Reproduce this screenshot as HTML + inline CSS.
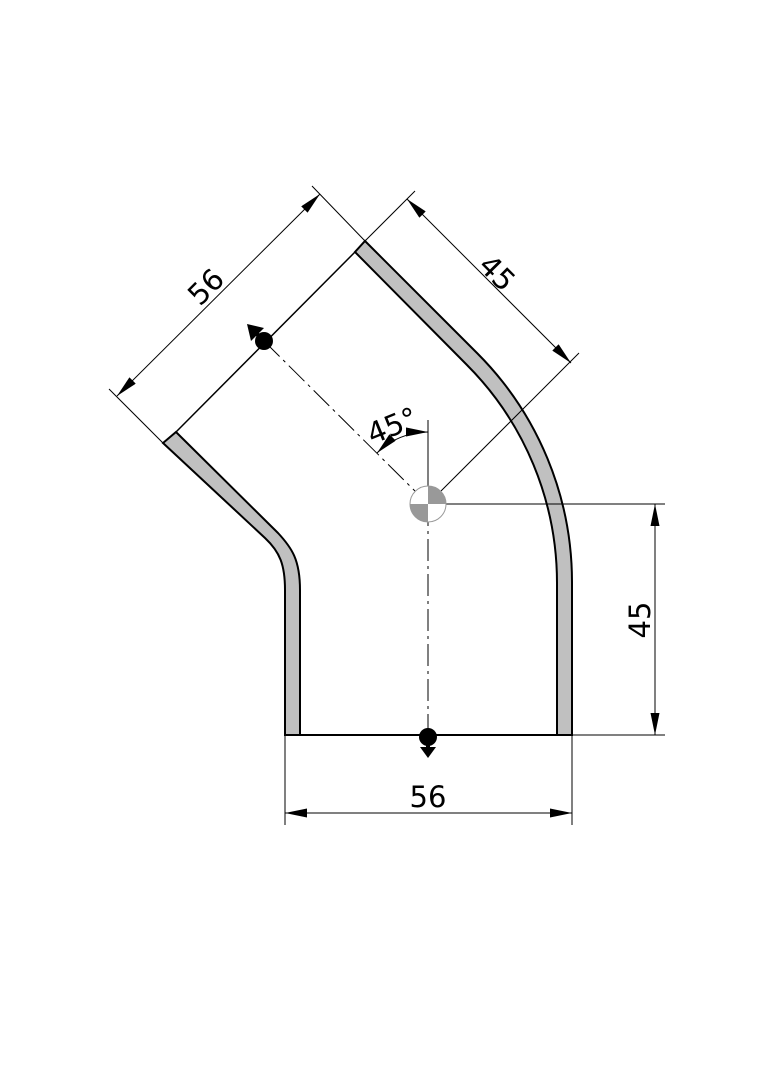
<!DOCTYPE html>
<html><head><meta charset="utf-8"><style>
html,body{margin:0;padding:0;background:#fff;}
svg{display:block;}
text{font-family:"DejaVu Sans","Liberation Sans",sans-serif;font-size:29px;fill:#000;}
</style></head><body>
<svg width="764" height="1080" viewBox="0 0 764 1080" xmlns="http://www.w3.org/2000/svg">
<defs>
<marker id="a" viewBox="0 0 22 9" refX="22" refY="4.5" markerWidth="22" markerHeight="9" markerUnits="userSpaceOnUse" orient="auto-start-reverse"><path d="M0,0 L22,4.5 L0,9 Z" fill="#000"/></marker>
</defs>
<path d="M163,443 L265,538 C280,552 285,565 285,590 L285,735 L300,735 L300,590 C300,560 292,548 278,533 L176,432 Z" fill="#c0c0c0" stroke="#000" stroke-width="2"/>
<path d="M365,241 L477,353 A324,324 0 0 1 572,583 L572,735 L557,735 L557,583 A309,309 0 0 0 466.5,364.5 L355,252 Z" fill="#c0c0c0" stroke="#000" stroke-width="2"/>
<line x1="355" y1="252" x2="176" y2="432" stroke="#000" stroke-width="1.5"/>
<line x1="300" y1="735" x2="557" y2="735" stroke="#000" stroke-width="2"/>
<g stroke="#000" stroke-width="1" fill="none">
<line x1="264" y1="341" x2="428" y2="504" stroke-dasharray="22,5,3,5"/>
<line x1="428" y1="504" x2="428" y2="735" stroke-dasharray="22,5,3,5"/>
<line x1="428" y1="504" x2="428" y2="420"/>
<line x1="365" y1="241" x2="312" y2="186"/>
<line x1="163" y1="443" x2="109" y2="389"/>
<line x1="365" y1="241" x2="415" y2="191"/>
<line x1="428" y1="504" x2="579" y2="353"/>
<line x1="428" y1="504" x2="665" y2="504"/>
<line x1="572" y1="735" x2="665" y2="735"/>
<line x1="285" y1="735" x2="285" y2="825"/>
<line x1="572" y1="735" x2="572" y2="825"/>
<line x1="320" y1="194" x2="117" y2="396" marker-start="url(#a)" marker-end="url(#a)"/>
<line x1="407" y1="199" x2="571" y2="363" marker-start="url(#a)" marker-end="url(#a)"/>
<line x1="655" y1="504" x2="655" y2="735" marker-start="url(#a)" marker-end="url(#a)"/>
<line x1="285" y1="813" x2="572" y2="813" marker-start="url(#a)" marker-end="url(#a)"/>
<path d="M428,432 A72,72 0 0 0 377,453" marker-start="url(#a)" marker-end="url(#a)"/>
</g>
<circle cx="428" cy="504" r="18" fill="#fff" stroke="#999" stroke-width="1"/>
<path d="M428,504 L428,486 A18,18 0 0 1 446,504 Z" fill="#999"/>
<path d="M428,504 L428,522 A18,18 0 0 1 410,504 Z" fill="#999"/>
<circle cx="264" cy="341" r="9" fill="#000"/>
<line x1="264" y1="341" x2="254" y2="331" stroke="#000" stroke-width="4"/>
<path d="M247,324 L264,328 L251,341 Z" fill="#000"/>
<circle cx="428" cy="737" r="9" fill="#000"/>
<line x1="428" y1="737" x2="428" y2="750" stroke="#000" stroke-width="4"/>
<path d="M420,747 L436,747 L428,758 Z" fill="#000"/>
<text x="0" y="0" text-anchor="middle" transform="translate(213,294) rotate(-45)">56</text>
<text x="0" y="0" text-anchor="middle" transform="translate(490,280) rotate(45)">45</text>
<text x="0" y="0" text-anchor="middle" transform="translate(650,620) rotate(-90)">45</text>
<text x="428" y="807" text-anchor="middle">56</text>
<text x="0" y="0" text-anchor="middle" transform="translate(396,435) rotate(-22)">45°</text>
</svg>
</body></html>
